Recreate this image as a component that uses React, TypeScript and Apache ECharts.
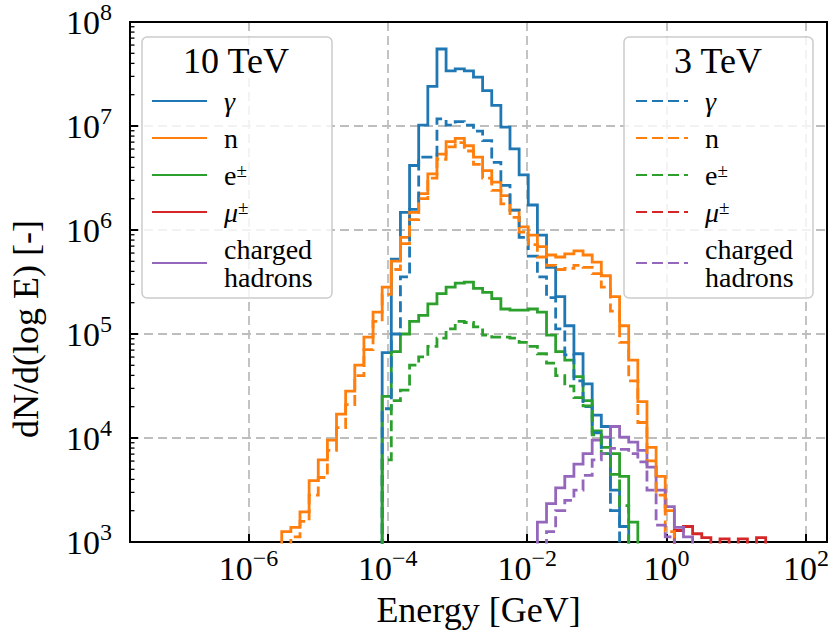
import React, { useEffect, useRef } from "react";
import * as echarts from "echarts";

const FONT = "'Liberation Serif', 'Times New Roman', Times, serif";
const BLUE = "#1f77b4";
const ORANGE = "#ff7f0e";
const GREEN = "#2ca02c";
const RED = "#d62728";
const PURPLE = "#9467bd";

// Axis ranges
const X_MIN_GEV = 2e-8;
const X_MAX_GEV = 200;
const Y_MIN = 1e3;
const Y_MAX = 1e8;

// Histogram binning: bin k spans log10(E/GeV) in [BIN0 + k*W, BIN0 + (k+1)*W]
const BIN0_LOG10_GEV = -5.522;
const BIN_WIDTH_LOG10 = 0.131;

// ---- 10 TeV (solid) : dN/d(log E) per bin, starting at the given bin index ----
const PHOTON_10TEV_FIRST_BIN = 11;
const PHOTON_10TEV = [
  6.61e4, 5.25e5, 1.48e6, 4.17e6, 1.02e7, 2.4e7, 5.5e7, 3.39e7, 3.55e7, 3.39e7,
  2.95e7, 2.19e7, 1.58e7, 9.77e6, 6.03e6, 3.39e6, 1.74e6, 8.91e5, 4.37e5, 2.29e5,
  1.2e5, 6.46e4, 3.31e4, 1.66e4, 1.29e4, 3.16e3, 1.41e3,
];
const NEUTRON_10TEV_FIRST_BIN = 0;
const NEUTRON_10TEV = [
  1.26e3, 1.38e3, 1.95e3, 3.89e3, 6.17e3, 9.55e3, 1.7e4, 2.82e4, 5.01e4, 9.33e4,
  1.62e5, 2.82e5, 5.01e5, 8.51e5, 1.48e6, 2.24e6, 3.47e6, 5.37e6, 7.08e6, 7.59e6,
  6.46e6, 5.01e6, 3.72e6, 2.88e6, 2.14e6, 1.55e6, 1.07e6, 8.91e5, 6.92e5, 5.75e5,
  5.5e5, 5.89e5, 6.31e5, 5.75e5, 4.9e5, 3.63e5, 2.29e5, 1.2e5, 5.62e4, 2.24e4,
  8.13e3, 4.27e3, 2.0e3,
];
const ELECTRON_10TEV_FIRST_BIN = 11;
const ELECTRON_10TEV = [
  2.51e4, 6.76e4, 1.0e5, 1.32e5, 1.51e5, 1.95e5, 2.45e5, 2.82e5, 3.09e5, 3.16e5,
  2.75e5, 2.51e5, 2.19e5, 1.74e5, 1.7e5, 1.7e5, 1.74e5, 1.62e5, 9.77e4, 6.76e4,
  5.62e4, 3.89e4, 2.29e4, 1.17e4, 8.13e3, 7.08e3, 4.27e3, 1.55e3,
];
const MUON_10TEV_FIRST_BIN = 43;
const MUON_10TEV = [1.29e3, 1.41e3, 1.2e3, 1.1e3, 8.0e2, 1.07e3, 8.0e2, 1.07e3, 0, 1.1e3];
const HADRON_10TEV_FIRST_BIN = 28;
const HADRON_10TEV = [
  1.55e3, 2.34e3, 3.31e3, 4.27e3, 5.62e3, 7.08e3, 9.55e3, 1.02e4, 1.29e4, 1.02e4,
  9.12e3, 7.59e3, 5.25e3, 3.16e3, 2.19e3, 1.38e3, 1.12e3,
];

// ---- 3 TeV (dashed) ----
const PHOTON_3TEV_FIRST_BIN = 11;
const PHOTON_3TEV = [
  1.91e4, 1.0e5, 3.55e5, 1.58e6, 5.01e6, 5.01e6, 1.17e7, 1.02e7, 1.1e7, 1.02e7,
  8.91e6, 7.24e6, 4.47e6, 2.69e6, 1.55e6, 8.51e5, 5.62e5, 3.55e5, 2.24e5, 1.12e5,
  6.31e4, 3.55e4, 2.0e4, 1.12e4, 7.08e3, 2.0e3,
];
const NEUTRON_3TEV_FIRST_BIN = 1;
const NEUTRON_3TEV = [
  1.12e3, 1.58e3, 2.82e3, 4.17e3, 7.59e3, 1.26e4, 2.09e4, 3.98e4, 7.08e4, 1.32e5,
  2.4e5, 4.17e5, 7.41e5, 1.26e6, 2.0e6, 3.16e6, 4.79e6, 6.31e6, 6.92e6, 5.75e6,
  4.27e6, 3.16e6, 2.4e6, 1.78e6, 1.32e6, 9.55e5, 7.24e5, 5.5e5, 4.57e5, 4.17e5,
  4.27e5, 4.57e5, 4.37e5, 3.8e5, 2.82e5, 1.66e5, 8.32e4, 3.55e4, 1.41e4, 6.03e3,
  2.82e3, 1.26e3,
];
const ELECTRON_3TEV_FIRST_BIN = 11;
const ELECTRON_3TEV = [
  6.17e3, 2.29e4, 2.88e4, 5.01e4, 6.03e4, 7.59e4, 9.12e4, 1.12e5, 1.32e5, 1.29e5,
  1.17e5, 9.77e4, 9.33e4, 9.33e4, 9.12e4, 8.32e4, 7.59e4, 6.46e4, 5.25e4, 3.98e4,
  3.16e4, 2.45e4, 2.04e4, 1.07e4, 7.08e3, 4.47e3, 2.24e3,
];
const MUON_3TEV_FIRST_BIN = 0;
const MUON_3TEV: number[] = [];
const HADRON_3TEV_FIRST_BIN = 29;
const HADRON_3TEV = [
  1.26e3, 2.0e3, 2.51e3, 3.16e3, 4.37e3, 6.17e3, 7.08e3, 7.94e3, 7.76e3, 7.08e3,
  5.89e3, 3.16e3, 1.45e3, 1.12e3,
];

const LEGEND_TITLES = ["10 TeV", "3 TeV"];
const PARTICLE_LABELS = ["{i|γ}", "{r|n}", "{r|e}{s|±}", "{i|μ}{s|±}", "{r|charged}\n{r|hadrons}"];
const COLORS = [BLUE, ORANGE, GREEN, RED, PURPLE];

const SERIES_10 = [
  [PHOTON_10TEV_FIRST_BIN, PHOTON_10TEV],
  [NEUTRON_10TEV_FIRST_BIN, NEUTRON_10TEV],
  [ELECTRON_10TEV_FIRST_BIN, ELECTRON_10TEV],
  [MUON_10TEV_FIRST_BIN, MUON_10TEV],
  [HADRON_10TEV_FIRST_BIN, HADRON_10TEV],
] as [number, number[]][];
const SERIES_3 = [
  [PHOTON_3TEV_FIRST_BIN, PHOTON_3TEV],
  [NEUTRON_3TEV_FIRST_BIN, NEUTRON_3TEV],
  [ELECTRON_3TEV_FIRST_BIN, ELECTRON_3TEV],
  [MUON_3TEV_FIRST_BIN, MUON_3TEV],
  [HADRON_3TEV_FIRST_BIN, HADRON_3TEV],
] as [number, number[]][];

const BELOW_AXIS = 1; // empty bins: line drops below the axis floor (clipped)
const edgeLog = (k: number) => BIN0_LOG10_GEV + k * BIN_WIDTH_LOG10;

function stepData(first: number, values: number[]) {
  if (!values.length) return [];
  const pts: number[][] = [[edgeLog(first), BELOW_AXIS]];
  values.forEach((v, i) => pts.push([edgeLog(first + i), v > 0 ? v : BELOW_AXIS]));
  pts.push([edgeLog(first + values.length), BELOW_AXIS]);
  return pts;
}

function buildOption() {
  const names: string[][] = [[], []];
  const labelByName: Record<string, string> = {};
  const series: any[] = [];
  [SERIES_10, SERIES_3].forEach((group, gi) => {
    group.forEach(([first, values], pi) => {
      const name = `${LEGEND_TITLES[gi]} ${pi}`;
      names[gi].push(name);
      labelByName[name] = PARTICLE_LABELS[pi];
      series.push({
        name,
        type: "line",
        step: "end",
        data: stepData(first, values),
        symbol: "none",
        showSymbol: false,
        clip: true,
        silent: true,
        z: 2,
        itemStyle: { color: COLORS[pi] },
        lineStyle: {
          color: COLORS[pi],
          width: 2.8,
          type: gi === 0 ? "solid" : [11, 5],
          cap: "butt",
          join: "miter",
        },
      });
    });
  });

  // minor ticks of the log y axis (2..9 x 10^n), drawn inward from the left spine
  const yMinor: number[][] = [];
  for (let n = 3; n < 8; n++) for (let k = 2; k <= 9; k++) yMinor.push([Math.log10(X_MIN_GEV), k * Math.pow(10, n)]);
  series.push({
    type: "custom",
    silent: true,
    z: 3,
    data: yMinor,
    encode: { x: 0, y: 1 },
    renderItem: (_p: any, api: any) => {
      const p = api.coord([api.value(0), api.value(1)]);
      return {
        type: "line",
        shape: { x1: p[0], y1: p[1], x2: p[0] + 4.5, y2: p[1] },
        style: { stroke: "#000", lineWidth: 1.3 },
      };
    },
  });

  const tickRich = {
    b: { fontFamily: FONT, fontSize: 34, lineHeight: 44, color: "#000" },
    s: { fontFamily: FONT, fontSize: 24, lineHeight: 24, verticalAlign: "top", color: "#000" },
  };
  const legendRich = {
    r: { fontFamily: FONT, fontSize: 28, lineHeight: 28, color: "#000" },
    i: { fontFamily: FONT, fontSize: 28, lineHeight: 28, fontStyle: "italic", color: "#000" },
    s: { fontFamily: FONT, fontSize: 19, lineHeight: 16, verticalAlign: "top", color: "#000" },
  };
  const gridLine = { color: "#bdbdbd", width: 1.8, type: [9, 5] };
  const tickLine = { color: "#000", width: 2 };

  const legendBase = {
    orient: "vertical",
    itemHeight: 14,
    itemGap: 9,
    padding: 0,
    selectedMode: false,
    z: 6,
    itemStyle: { opacity: 0, borderWidth: 0 },
    formatter: (n: string) => labelByName[n],
    textStyle: { fontFamily: FONT, fontSize: 28, lineHeight: 28, color: "#000", padding: [0, 0, 0, 12], rich: legendRich },
  };

  return {
    animation: false,
    backgroundColor: "#ffffff",
    grid: { left: 128, top: 22, width: 699, height: 520, show: true, borderColor: "#000", borderWidth: 2, z: 1 },
    xAxis: {
      type: "value",
      min: Math.log10(X_MIN_GEV),
      max: Math.log10(X_MAX_GEV),
      splitNumber: 5,
      name: "Energy [GeV]",
      nameLocation: "middle",
      nameGap: 50,
      nameTextStyle: { fontFamily: FONT, fontSize: 36, color: "#000" },
      axisLine: { show: false, onZero: false },
      axisTick: { inside: true, length: 8, lineStyle: tickLine },
      splitLine: { show: true, lineStyle: gridLine },
      axisLabel: {
        showMinLabel: false,
        showMaxLabel: false,
        margin: 4,
        formatter: (v: number) => {
          const e = Math.round(v);
          if (Math.abs(v - e) > 1e-6) return "";
          return `{b|10}{s|${e < 0 ? "\u2212" : ""}${Math.abs(e)}}`;
        },
        rich: tickRich,
      },
    },
    yAxis: {
      type: "log",
      logBase: 10,
      min: Y_MIN,
      max: Y_MAX,
      name: "dN/d(log E) [-]",
      nameLocation: "middle",
      nameGap: 86,
      nameRotate: 90,
      nameTextStyle: { fontFamily: FONT, fontSize: 36, color: "#000", padding: [0, 94, 0, 0] },
      axisLine: { show: false, onZero: false },
      axisTick: { inside: true, length: 8, lineStyle: tickLine },
      splitLine: { show: true, lineStyle: gridLine },
      axisLabel: {
        margin: 18,
        formatter: (v: number) => `{b|10}{s|${Math.round(Math.log10(v))}}`,
        rich: tickRich,
      },
    },
    legend: [
      { ...legendBase, data: names[0], left: 151, top: 87, itemWidth: 55 },
      { ...legendBase, data: names[1], left: 635, top: 87, itemWidth: 52 },
    ],
    graphic: {
      elements: [
        {
          type: "rect",
          z: 5,
          silent: true,
          shape: { x: 142, y: 37, width: 190, height: 261, r: 5 },
          style: { fill: "rgba(255,255,255,0.8)", stroke: "#cccccc", lineWidth: 1.5 },
        },
        {
          type: "rect",
          z: 5,
          silent: true,
          shape: { x: 624, y: 37, width: 189, height: 261, r: 5 },
          style: { fill: "rgba(255,255,255,0.8)", stroke: "#cccccc", lineWidth: 1.5 },
        },
        {
          type: "text",
          z: 7,
          x: 236,
          y: 61,
          style: { text: LEGEND_TITLES[0], fontFamily: FONT, fontSize: 36, fill: "#000", align: "center", verticalAlign: "middle" },
        },
        {
          type: "text",
          z: 7,
          x: 718,
          y: 61,
          style: { text: LEGEND_TITLES[1], fontFamily: FONT, fontSize: 36, fill: "#000", align: "center", verticalAlign: "middle" },
        },
      ],
    },
    series,
  };
}

export default function App() {
  const ref = useRef<HTMLDivElement>(null);
  useEffect(() => {
    const chart = echarts.init(ref.current as HTMLDivElement, undefined, { renderer: "svg" });
    chart.setOption(buildOption() as any);
    return () => chart.dispose();
  }, []);
  return <div ref={ref} style={{ position: "fixed", left: 0, top: 0, width: 839, height: 640 }} />;
}
